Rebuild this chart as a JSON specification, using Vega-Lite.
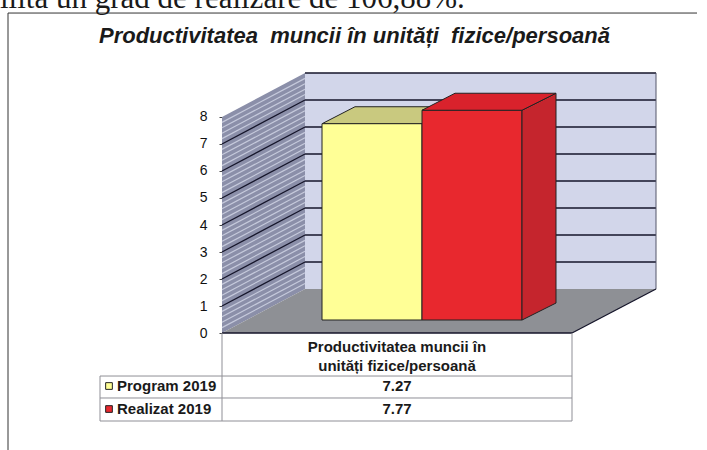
{
"$schema":"https://vega.github.io/schema/vega-lite/v6.json",
"width":707,"height":450,"padding":0,"autosize":{"type":"none"},
"background":"#ffffff",
"config":{"view":{"stroke":null},"font":"Liberation Sans"},
"title":{"text":"Productivitatea\u00a0\u00a0muncii în unități\u00a0\u00a0fizice/persoană","anchor":"middle","offset":-65,"dx":1,"fontSize":22,"fontWeight":"bold","fontStyle":"italic","font":"Liberation Sans","color":"#1a1a1a"},
"layer":[
{"data":{"values":[{"y":11.85,"x":-3.14,"x2":3.75}]},"mark":{"type":"rule","stroke":"#333333","strokeWidth":1},
 "encoding":{"x":{"field":"x","type":"quantitative","scale":{"domain":[-3.22,3.85],"nice":false,"zero":false},"axis":null},"x2":{"field":"x2"},"y":{"field":"y","type":"quantitative","scale":{"domain":[-4.333,12.333],"nice":false,"zero":false},"axis":{"values":[0,1,2,3,4,5,6,7,8],"orient":"left","offset":-222,"domain":false,"grid":false,"title":null,"tickSize":3,"tickColor":"#444444","labelPadding":12,"labelFontSize":14,"labelColor":"#111111","labelFont":"Liberation Sans"}}}},
{"data":{"values":[{"x":-3.14,"y":11.85,"y2":-4.333}]},"mark":{"type":"rule","stroke":"#333333","strokeWidth":1},
 "encoding":{"x":{"field":"x","type":"quantitative"},"y":{"field":"y","type":"quantitative"},"y2":{"field":"y2"}}},
{"data":{"values":[{"label":"ilita un grad de realizare de 106,88%.","x":-3.22,"y":12.04}]},"mark":{"type":"text","align":"left","baseline":"alphabetic","font":"Liberation Serif","fontSize":31,"color":"#1a1a1a"},
 "encoding":{"text":{"field":"label"},"x":{"field":"x","type":"quantitative"},"y":{"field":"y","type":"quantitative"}}},
{"data":{"values":[{"x":-1,"y":0,"y2":8},{"x":-0.17,"y":1.63,"y2":9.63}]},"mark":{"type":"area","fill":"#8b8fa9"},
 "encoding":{"x":{"field":"x","type":"quantitative"},"y":{"field":"y","type":"quantitative"},"y2":{"field":"y2"}}},
{"data":{"values":[{"y":0.2,"y2":1.83},{"y":0.4,"y2":2.03},{"y":0.6,"y2":2.23},{"y":0.8,"y2":2.43},{"y":1.2,"y2":2.83},{"y":1.4,"y2":3.03},{"y":1.6,"y2":3.23},{"y":1.8,"y2":3.43},{"y":2.2,"y2":3.83},{"y":2.4,"y2":4.03},{"y":2.6,"y2":4.23},{"y":2.8,"y2":4.43},{"y":3.2,"y2":4.83},{"y":3.4,"y2":5.03},{"y":3.6,"y2":5.23},{"y":3.8,"y2":5.43},{"y":4.2,"y2":5.83},{"y":4.4,"y2":6.03},{"y":4.6,"y2":6.23},{"y":4.8,"y2":6.43},{"y":5.2,"y2":6.83},{"y":5.4,"y2":7.03},{"y":5.6,"y2":7.23},{"y":5.8,"y2":7.43},{"y":6.2,"y2":7.83},{"y":6.4,"y2":8.03},{"y":6.6,"y2":8.23},{"y":6.8,"y2":8.43},{"y":7.2,"y2":8.83},{"y":7.4,"y2":9.03},{"y":7.6,"y2":9.23},{"y":7.8,"y2":9.43}]},
 "mark":{"type":"rule","stroke":"#c6cadc","strokeWidth":1.2},
 "encoding":{"x":{"datum":-1,"type":"quantitative"},"x2":{"datum":-0.17},"y":{"field":"y","type":"quantitative"},"y2":{"field":"y2"}}},
{"data":{"values":[{"y":1,"y2":2.63},{"y":2,"y2":3.63},{"y":3,"y2":4.63},{"y":4,"y2":5.63},{"y":5,"y2":6.63},{"y":6,"y2":7.63},{"y":7,"y2":8.63}]},
 "mark":{"type":"rule","stroke":"#15152a","strokeWidth":1.3},
 "encoding":{"x":{"datum":-1,"type":"quantitative"},"x2":{"datum":-0.17},"y":{"field":"y","type":"quantitative"},"y2":{"field":"y2"}}},
{"data":{"values":[{"x":-0.17,"x2":3.34,"y":1.63,"y2":9.63}]},"mark":{"type":"rect","fill":"#d2d6ea"},
 "encoding":{"x":{"field":"x","type":"quantitative"},"x2":{"field":"x2"},"y":{"field":"y","type":"quantitative"},"y2":{"field":"y2"}}},
{"data":{"values":[{"y":2.63},{"y":3.63},{"y":4.63},{"y":5.63},{"y":6.63},{"y":7.63},{"y":8.63},{"y":9.63}]},"mark":{"type":"rule","stroke":"#15152a","strokeWidth":1.3},
 "encoding":{"x":{"datum":-0.17,"type":"quantitative"},"x2":{"datum":3.34},"y":{"field":"y","type":"quantitative"}}},
{"data":{"values":[{"x":3.34,"y":1.63,"y2":9.63}]},"mark":{"type":"rule","stroke":"#55566a","strokeWidth":1},
 "encoding":{"x":{"field":"x","type":"quantitative"},"y":{"field":"y","type":"quantitative"},"y2":{"field":"y2"}}},
{"data":{"values":[{"y":0,"x":-1,"x2":2.5},{"y":1.63,"x":-0.17,"x2":3.34}]},"mark":{"type":"area","orient":"horizontal","fill":"#8e9095"},
 "encoding":{"y":{"field":"y","type":"quantitative"},"x":{"field":"x","type":"quantitative"},"x2":{"field":"x2"}}},
{"data":{"values":[{"x":-1,"x2":2.5,"y":0,"y2":0},{"x":2.5,"x2":3.34,"y":0,"y2":1.63}]},"mark":{"type":"rule","stroke":"#15152a","strokeWidth":1.3},
 "encoding":{"x":{"field":"x","type":"quantitative"},"x2":{"field":"x2"},"y":{"field":"y","type":"quantitative"},"y2":{"field":"y2"}}},
{"data":{"values":[{"y":7.75,"x":0,"x2":1},{"y":8.38,"x":0.33,"x2":1.33}]},"mark":{"type":"area","orient":"horizontal","fill":"#c9c97f","stroke":"#222222","strokeWidth":1},
 "encoding":{"y":{"field":"y","type":"quantitative"},"x":{"field":"x","type":"quantitative"},"x2":{"field":"x2"}}},
{"data":{"name":"bars"},"mark":{"type":"rect","stroke":"#222222","strokeWidth":1,"yOffset":-13,"y2Offset":-13},
 "encoding":{"x":{"field":"x0","type":"quantitative"},"x2":{"field":"x1"},"y":{"field":"value","type":"quantitative"},"y2":{"datum":0},
 "fill":{"field":"series","type":"nominal","scale":{"domain":["Program 2019","Realizat 2019"],"range":["#ffff96","#e8282e"]},"legend":null}}},
{"data":{"values":[{"x":2,"y":0.48,"y2":8.25},{"x":2.34,"y":1.11,"y2":8.88}]},"mark":{"type":"area","fill":"#c5252d","stroke":"#222222","strokeWidth":1},
 "encoding":{"x":{"field":"x","type":"quantitative"},"y":{"field":"y","type":"quantitative"},"y2":{"field":"y2"}}},
{"data":{"values":[{"y":8.25,"x":1,"x2":2},{"y":8.88,"x":1.33,"x2":2.34}]},"mark":{"type":"area","orient":"horizontal","fill":"#d9222c","stroke":"#222222","strokeWidth":1},
 "encoding":{"y":{"field":"y","type":"quantitative"},"x":{"field":"x","type":"quantitative"},"x2":{"field":"x2"}}},
{"data":{"values":[{"x":-2.22,"x2":2.5,"y":-1.593},{"x":-2.22,"x2":2.5,"y":-2.407},{"x":-2.22,"x2":2.5,"y":-3.259}]},"mark":{"type":"rule","stroke":"#8f8f96","strokeWidth":1},
 "encoding":{"x":{"field":"x","type":"quantitative"},"x2":{"field":"x2"},"y":{"field":"y","type":"quantitative"}}},
{"data":{"values":[{"x":-2.22,"y":-1.593,"y2":-3.259},{"x":-1,"y":0,"y2":-3.259},{"x":2.5,"y":0,"y2":-3.259}]},"mark":{"type":"rule","stroke":"#8f8f96","strokeWidth":1},
 "encoding":{"x":{"field":"x","type":"quantitative"},"y":{"field":"y","type":"quantitative"},"y2":{"field":"y2"}}},
{"data":{"values":[{"label":"Productivitatea muncii în","x":0.75,"y":-0.519},{"label":"unități fizice/persoană","x":0.75,"y":-1.222}]},"mark":{"type":"text","align":"center","baseline":"middle","fontWeight":"bold","fontSize":15,"color":"#1a1a1a"},
 "encoding":{"text":{"field":"label"},"x":{"field":"x","type":"quantitative"},"y":{"field":"y","type":"quantitative"}}},
{"data":{"name":"bars"},"mark":{"type":"text","align":"center","baseline":"middle","fontWeight":"bold","fontSize":15,"color":"#1a1a1a"},
 "encoding":{"text":{"field":"value","format":".2f"},"x":{"datum":0.75,"type":"quantitative"},"y":{"field":"row","type":"quantitative"}}},
{"data":{"name":"bars"},"mark":{"type":"text","align":"left","baseline":"middle","fontWeight":"bold","fontSize":15,"color":"#1a1a1a"},
 "encoding":{"text":{"field":"series"},"x":{"datum":-2.05,"type":"quantitative"},"y":{"field":"row","type":"quantitative"}}},
{"data":{"name":"bars"},"mark":{"type":"point","shape":"square","filled":true,"size":45,"stroke":"#222222","strokeWidth":1,"opacity":1},
 "encoding":{"x":{"datum":-2.13,"type":"quantitative"},"y":{"field":"row","type":"quantitative"},
 "fill":{"field":"series","type":"nominal","legend":null}}}
],
"datasets":{"bars":[{"series":"Program 2019","value":7.27,"x0":0,"x1":1,"row":-1.963},{"series":"Realizat 2019","value":7.77,"x0":1,"x1":2,"row":-2.815}]}
}
